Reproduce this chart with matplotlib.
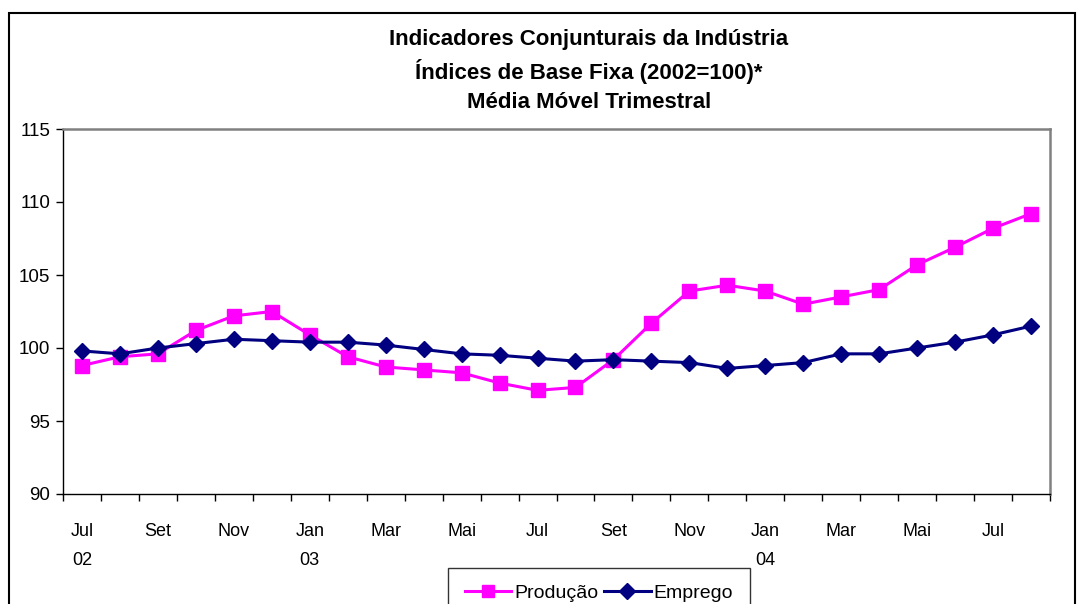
import numpy as np
import matplotlib
matplotlib.use('Agg')
import matplotlib.pyplot as plt
from matplotlib.patches import Rectangle

plt.rcParams['font.family'] = ['Liberation Sans', 'DejaVu Sans']

# dados (média móvel trimestral, 2002=100)
meses = ['Jul', 'Ago', 'Set', 'Out', 'Nov', 'Dez',
         'Jan', 'Fev', 'Mar', 'Abr', 'Mai', 'Jun', 'Jul', 'Ago', 'Set', 'Out', 'Nov', 'Dez',
         'Jan', 'Fev', 'Mar', 'Abr', 'Mai', 'Jun', 'Jul', 'Ago']
anos = {0: '02', 6: '03', 18: '04'}

producao = [98.8, 99.4, 99.6, 101.2, 102.2, 102.5, 100.9, 99.4, 98.7, 98.5, 98.3, 97.6, 97.1,
            97.3, 99.2, 101.7, 103.9, 104.3, 103.9, 103.0, 103.5, 104.0, 105.7, 106.9, 108.2, 109.2]
emprego = [99.8, 99.6, 100.0, 100.3, 100.6, 100.5, 100.4, 100.4, 100.2, 99.9, 99.6, 99.5, 99.3,
           99.1, 99.2, 99.1, 99.0, 98.6, 98.8, 99.0, 99.6, 99.6, 100.0, 100.4, 100.9, 101.5]

W, H = 1083, 604
fig = plt.figure(figsize=(W / 100, H / 100), dpi=100)

# moldura externa
fig.patches.append(Rectangle((9 / W, -0.1), (1075 - 9) / W, 1.1 - 13 / H,
                             transform=fig.transFigure, fill=False,
                             edgecolor='black', linewidth=1.5))

ax = fig.add_axes([63 / W, 1 - 494 / H, (1050 - 63) / W, (494 - 129) / H])
x = np.arange(len(meses))

ax.plot(x, producao, color='#FF00FF', marker='s', markersize=9.5, linewidth=2.2,
        label='Produção', clip_on=False, zorder=3)
ax.plot(x, emprego, color='#000080', marker='D', markersize=8.5, linewidth=2.2,
        label='Emprego', clip_on=False, zorder=4)

ax.set_xlim(-0.5, len(meses) - 0.5)
ax.set_ylim(90, 115)
ax.set_yticks([90, 95, 100, 105, 110, 115])
ax.tick_params(axis='y', labelsize=13.5, length=5, direction='out', pad=4, width=1)

ax.set_xticks(np.arange(-0.5, len(meses)), minor=False)
ax.set_xticklabels([])
ax.tick_params(axis='x', which='major', length=5, direction='out', width=1)
lbl_pos = list(range(0, len(meses), 2))
lbls = [meses[i] + ('\n' + anos[i] if i in anos else '\n') for i in lbl_pos]
ax.set_xticks(lbl_pos, minor=True)
ax.set_xticklabels(lbls, minor=True, fontsize=13, linespacing=1.9)
ax.tick_params(axis='x', which='minor', length=0, pad=21)

for s in ['top', 'right']:
    ax.spines[s].set_color('#808080')
    ax.spines[s].set_linewidth(1.8)
for s in ['left', 'bottom']:
    ax.spines[s].set_color('black')
    ax.spines[s].set_linewidth(1)

titulo = ['Indicadores Conjunturais da Indústria',
          'Índices de Base Fixa (2002=100)*',
          'Média Móvel Trimestral']
for t, yp in zip(titulo, [40, 71, 102]):
    fig.text(589 / W, 1 - yp / H, t, ha='center', va='center',
             fontsize=16, fontweight='bold')

leg = fig.legend(loc='upper left', bbox_to_anchor=(448 / W, 1 - 568 / H), ncol=2,
                 fontsize=14, frameon=True, fancybox=False, edgecolor='black',
                 handlelength=2.4, handletextpad=0.15, columnspacing=0.3,
                 borderpad=0.85, borderaxespad=0, markerscale=0.9)
leg.get_frame().set_linewidth(1)

fig.savefig('out.png', dpi=100)
